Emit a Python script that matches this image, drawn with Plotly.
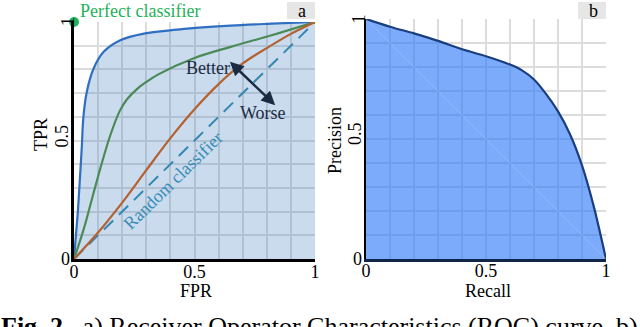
import numpy as np
import plotly.graph_objects as go

# ---------------- data ----------------
# ROC curves (panel a)
roc_blue_fpr = [0, 0.008, 0.016, 0.024, 0.032, 0.039, 0.053, 0.081, 0.123, 0.192, 0.29, 0.47, 0.65, 0.82, 1]
roc_blue_tpr = [0, 0.10, 0.20, 0.33, 0.466, 0.60, 0.705, 0.803, 0.874, 0.923, 0.951, 0.972, 0.985, 0.993, 1]

roc_green_fpr = [0, 0.04, 0.075, 0.11, 0.15, 0.19, 0.22, 0.26, 0.3, 0.35, 0.5, 0.65, 0.82, 1]
roc_green_tpr = [0, 0.125, 0.255, 0.385, 0.52, 0.625, 0.674, 0.716, 0.747, 0.779, 0.848, 0.895, 0.944, 1]

roc_orange_fpr = [0, 0.1, 0.2, 0.3, 0.4, 0.5, 0.6, 0.7, 0.8, 0.9, 1]
roc_orange_tpr = [0, 0.112, 0.238, 0.375, 0.51, 0.632, 0.738, 0.825, 0.89, 0.95, 1]

random_fpr = [0, 1]
random_tpr = [0, 1]

perfect_fpr = [0]
perfect_tpr = [1]

# Precision-recall curve (panel b)
pr_recall = [0, 0.1, 0.2, 0.3, 0.4, 0.5, 0.6, 0.65, 0.7, 0.75, 0.8, 0.85, 0.9, 0.95, 1]
pr_precision = [1, 0.968, 0.94, 0.909, 0.874, 0.845, 0.81, 0.786, 0.748, 0.688, 0.615, 0.52, 0.39, 0.215, 0]

tick_vals = [0, 0.5, 1]
tick_text = ["0", "0.5", "1"]

# arrow endpoints (data coords, panel a)
better_pt = (0.647, 0.832)
worse_pt = (0.841, 0.643)

caption = "<b>Fig. 2.</b>  a) Receiver Operator Characteristics (ROC) curve, b)"

# ---------------- layout helpers ----------------
W, H = 640, 327
FONT = "'Liberation Serif', 'Times New Roman', serif"


def px_x(p):
    return p / W


def px_y(p):
    return (H - p) / H


GRID = "#dcdcdc"

fig = go.Figure()

# Panel a
fig.add_trace(go.Scatter(x=roc_blue_fpr, y=roc_blue_tpr, mode="lines", line=dict(color="#2f6fc2", width=2.2, shape="spline", smoothing=1),
                         fill="tozeroy", fillcolor="rgba(60,125,190,0.28)", xaxis="x", yaxis="y", showlegend=False))
fig.add_trace(go.Scatter(x=random_fpr, y=random_tpr, mode="lines", line=dict(color="#3387b0", width=2, dash="13px,8px"),
                         xaxis="x", yaxis="y", showlegend=False))
fig.add_trace(go.Scatter(x=roc_green_fpr, y=roc_green_tpr, mode="lines", line=dict(color="#4b8a57", width=2.2, shape="spline", smoothing=1),
                         xaxis="x", yaxis="y", showlegend=False))
fig.add_trace(go.Scatter(x=roc_orange_fpr, y=roc_orange_tpr, mode="lines", line=dict(color="#b5612f", width=2.2, shape="spline", smoothing=1),
                         xaxis="x", yaxis="y", showlegend=False))
fig.add_trace(go.Scatter(x=perfect_fpr, y=perfect_tpr, mode="markers", marker=dict(color="#1fb25a", size=10),
                         cliponaxis=False, xaxis="x", yaxis="y", showlegend=False))

# Panel b
fig.add_trace(go.Scatter(x=pr_recall, y=pr_precision, mode="lines", line=dict(color="#1b3f7e", width=2.2, shape="spline", smoothing=0.8),
                         fill="tozeroy", fillcolor="rgba(45,120,250,0.62)", xaxis="x2", yaxis="y2", showlegend=False))
fig.add_trace(go.Scatter(x=[0, 1], y=[1, 0], mode="lines", line=dict(color="rgba(255,255,255,0.18)", width=1),
                         xaxis="x2", yaxis="y2", showlegend=False))

tickfont = dict(family=FONT, size=18, color="black")

common_axis = dict(range=[0, 1], tickvals=tick_vals, showgrid=True, gridcolor=GRID, gridwidth=2,
                   minor=dict(dtick=0.1, tick0=0, showgrid=True, gridcolor=GRID, gridwidth=2),
                   zeroline=False, ticks="", tickfont=tickfont, automargin=False, fixedrange=True)

fig.update_layout(
    width=W, height=H, margin=dict(l=0, r=0, t=0, b=0),
    template="none", paper_bgcolor="white", plot_bgcolor="white",
    xaxis=dict(domain=[px_x(74), px_x(315)], anchor="y", showline=True, linecolor="black", linewidth=3,
               ticktext=tick_text, ticklabelstandoff=-6, **common_axis),
    yaxis=dict(domain=[px_y(259), px_y(22)], anchor="x", showline=True, linecolor="black", linewidth=3,
               showticklabels=False, **common_axis),
    xaxis2=dict(domain=[px_x(366), px_x(606)], anchor="y2", showline=True, linecolor="#10254a", linewidth=2.5,
                ticktext=tick_text, ticklabelstandoff=-6, **common_axis),
    yaxis2=dict(domain=[px_y(259), px_y(19)], anchor="x2", showline=True, linecolor="black", linewidth=2,
                showticklabels=False, **common_axis),
)

ann = []
lab_font = dict(family=FONT, size=18, color="black")
# axis titles
ann.append(dict(text="FPR", x=px_x(196), y=px_y(291), xref="paper", yref="paper", showarrow=False,
                font=lab_font, xanchor="center", yanchor="middle"))
ann.append(dict(text="TPR", x=px_x(41), y=px_y(135), xref="paper", yref="paper", showarrow=False, textangle=-90,
                font=lab_font, xanchor="center", yanchor="middle"))
ann.append(dict(text="Recall", x=px_x(488), y=px_y(291), xref="paper", yref="paper", showarrow=False,
                font=lab_font, xanchor="center", yanchor="middle"))
ann.append(dict(text="Precision", x=px_x(335), y=px_y(141), xref="paper", yref="paper", showarrow=False, textangle=-90,
                font=lab_font, xanchor="center", yanchor="middle"))

# y tick labels (rotated, as in the source; the zero stays upright)
for yref, xs, ys in [("y", (65, 61, 68), (0, 4, 0)), ("y2", (357, 355, 358.5), (0, 5, 0))]:
    for val, txt, xpx, ysh in zip(tick_vals, tick_text, xs, ys):
        ann.append(dict(text=txt, x=px_x(xpx), y=val, xref="paper", yref=yref, showarrow=False,
                        textangle=0 if val == 0 else -90, yshift=ysh, font=lab_font,
                        xanchor="center", yanchor="middle"))

# panel a annotations
ann.append(dict(text="Perfect classifier", x=0, y=1, xref="x", yref="y", showarrow=False, xanchor="left", yanchor="middle",
                xshift=4, yshift=11, font=dict(family=FONT, size=18, color="#1fb25a")))
ann.append(dict(text="Random classifier", x=0.409, y=0.33, xref="x", yref="y", showarrow=False, textangle=-44.5,
                font=dict(family=FONT, size=18, color="#3a8cb6")))
ann.append(dict(text="", x=better_pt[0], y=better_pt[1], ax=worse_pt[0], ay=worse_pt[1], xref="x", yref="y", axref="x", ayref="y",
                showarrow=True, arrowhead=2, startarrowhead=2, arrowside="end+start", arrowwidth=2.5, arrowsize=1.1,
                startarrowsize=1.1, arrowcolor="#1b2a41", standoff=0, startstandoff=0))
ann.append(dict(text="Better", x=0.557, y=0.807, xref="x", yref="y", showarrow=False,
                font=dict(family=FONT, size=18, color="#1b2a41")))
ann.append(dict(text="Worse", x=0.786, y=0.615, xref="x", yref="y", showarrow=False,
                font=dict(family=FONT, size=18, color="#1b2a41")))

# panel labels
for x0, x1, lab in [(287, 315, "a"), (578, 606, "b")]:
    fig.add_shape(type="rect", xref="paper", yref="paper", x0=px_x(x0), x1=px_x(x1), y0=px_y(19), y1=px_y(2),
                  fillcolor="#e6e6e6", line=dict(width=0), layer="above")
    ann.append(dict(text=lab, x=px_x((x0 + x1) / 2 + 1), y=px_y(11), xref="paper", yref="paper", showarrow=False,
                    font=lab_font, xanchor="center", yanchor="middle"))

# caption (cut off at the bottom edge, as in the source)
ann.append(dict(text=caption, x=px_x(-1), y=px_y(310), xref="paper", yref="paper", showarrow=False, xanchor="left",
                yanchor="top", font=dict(family=FONT, size=26, color="black")))

fig.update_layout(annotations=ann)
fig.write_html("out.html", config={"displayModeBar": False},
               post_script="document.body.style.margin='0';document.body.style.overflow='hidden';")
